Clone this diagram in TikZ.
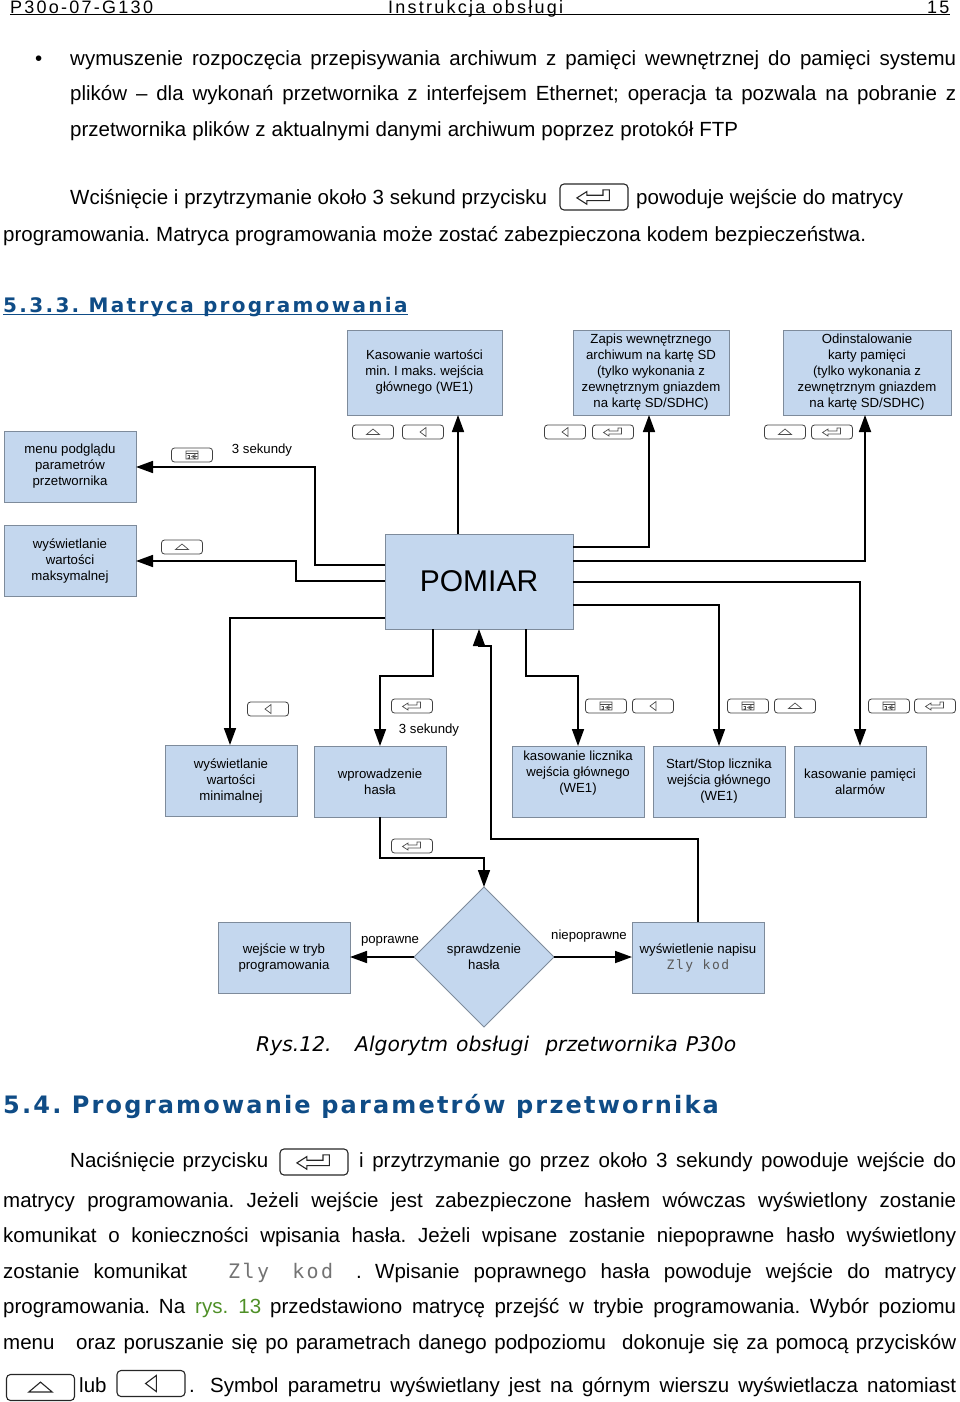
\documentclass[tikz,border=0pt]{standalone}
\usepackage{fontspec}
\setmainfont{Liberation Sans}
\newfontfamily\headfont[LetterSpace=12.5]{Liberation Sans}
\newfontfamily\titlefont[LetterSpace=11.6]{DejaVu Sans}
\newfontfamily\titlefontb[LetterSpace=9.1]{DejaVu Sans}
\newfontfamily\capfont{DejaVu Sans}
\newfontfamily\lcdfont[LetterSpace=12]{DejaVu Sans Mono}
\usetikzlibrary{arrows.meta,shapes.geometric}
\frenchspacing
\definecolor{boxblue}{HTML}{C4D7EE}
\definecolor{boxedge}{HTML}{7E8B9B}
\definecolor{headblue}{HTML}{0F4C86}
\definecolor{refgreen}{HTML}{4E8F26}
\newcommand{\fitline}[2]{\hbox to #1pt{#2}}
\tikzset{
blockbox/.style={draw=boxedge,fill=boxblue,line width=1pt,inner sep=0pt,outer sep=0pt,align=center,font=\fontsize{13.2}{16}\selectfont},
flow/.style={draw=black,line width=1.7pt,-{Triangle[length=17pt,width=12pt]}},
keybox/.style={draw=black!75,rounded corners=3pt,line width=0.8pt,inner sep=0pt,outer sep=0pt,minimum width=41pt,minimum height=14pt},
bigkey/.style={draw=black!85,rounded corners=4pt,line width=1.1pt,inner sep=0pt,outer sep=0pt,minimum width=68pt,minimum height=26pt},
label/.style={inner sep=0pt,font=\fontsize{13.2}{16}\selectfont},
textline/.style={anchor=base west,inner sep=0pt,font=\fontsize{20.5}{24}\selectfont},
headline/.style={anchor=base west,inner sep=0pt,font=\headfont\fontsize{18}{20}\selectfont},
symstroke/.style={line width=0.7pt,draw=black!70},
bigsym/.style={scale=1.8,symstroke/.append style={line width=1.1pt,draw=black!85}},
symup/.pic={\draw[symstroke] (-6.5,2.5)--(0,-3)--(6.5,2.5)--cycle;},
symleft/.pic={\draw[symstroke] (-3,0)--(3,-4.5)--(3,4.5)--cycle;},
symenter/.pic={\draw[symstroke] (-9.5,0.5)--(-4,-3)--(-4,-1)--(5,-1)--(5,-4)--(8.5,-4)--(8.5,2)--(-4,2)--(-4,4)--cycle;},
symmenu/.pic={\draw[symstroke,line width=0.55pt] (-6,-4) rectangle (6,4) (-6,-1.5)--(6,-1.5) (-4.5,0.5)--(-2.5,0.5)--(-2.5,3)--(-4.5,3) (5,1.5)--(1,1.5) (3,-0.5)--(-0.5,1.5)--(3,3.5)--cycle;}
}
\begin{document}
\begin{tikzpicture}[x=1pt,y=-1pt]
\useasboundingbox (0,0) rectangle (960,1402);

\node[headline] (docname) at (10,13.5) {P30o-07-G130};
\node[headline] (doctitle) at (388,13.5) {Instrukcja obsługi};
\node[headline] (pagenum) at (927,13.5) {15};
\coordinate (ruleL) at (10,15);
\coordinate (ruleR) at (950,15);
\draw[line width=1pt] (ruleL)--(ruleR);

\node[textline] (bullet) at (35,65.5) {•};
\node[textline] (p1a) at (70,65.5) {\fitline{886}{wymuszenie rozpoczęcia przepisywania archiwum z pamięci wewnętrznej do pamięci systemu}};
\node[textline] (p1b) at (70,101) {\fitline{886}{plików – dla wykonań przetwornika z interfejsem Ethernet; operacja ta pozwala na pobranie z}};
\node[textline] (p1c) at (70,136) {\fitline{668}{przetwornika plików z aktualnymi danymi archiwum poprzez protokół FTP}};
\node[textline] (p2a) at (70,204.5) {\fitline{477}{Wciśnięcie i przytrzymanie około 3 sekund przycisku}};
\node[bigkey] (keyA) at (594,197) {};
\pic[bigsym] at (keyA) {symenter};
\node[textline] (p2b) at (636,204.5) {\fitline{267}{powoduje wejście do matrycy}};
\node[textline] (p2c) at (3,241.5) {\fitline{863}{programowania. Matryca programowania może zostać zabezpieczona kodem bezpieczeństwa.}};

\node[anchor=base west,inner sep=0pt,text=headblue,font=\titlefont\bfseries\fontsize{20}{24}\selectfont] (sec533) at (3,312) {5.3.3. Matryca programowania};
\draw[headblue,line width=1pt] ([yshift=-2pt]sec533.base west)--([yshift=-2pt]sec533.base east);

\node[blockbox,minimum width=155pt,minimum height=85pt] (kasminmax) at (424.5,372.5) {Kasowanie wartości\\min. I maks. wejścia\\głównego (WE1)};
\node[blockbox,minimum width=156pt,minimum height=85pt] (zapis) at (651,372.5) {Zapis wewnętrznego\\archiwum na kartę SD\\(tylko wykonania z\\zewnętrznym gniazdem\\na kartę SD/SDHC)};
\node[blockbox,minimum width=168pt,minimum height=85pt] (odinst) at (867,372.5) {Odinstalowanie\\karty pamięci\\(tylko wykonania z\\zewnętrznym gniazdem\\na kartę SD/SDHC)};
\node[blockbox,minimum width=132pt,minimum height=71pt] (podglad) at (70,466.5) {menu podglądu\\parametrów\\przetwornika};
\node[blockbox,minimum width=132pt,minimum height=71pt] (maks) at (70,561) {wyświetlanie\\wartości\\maksymalnej};
\node[blockbox,minimum width=188pt,minimum height=95pt,font=\fontsize{30}{34}\selectfont] (pomiar) at (479,581.5) {POMIAR};
\node[blockbox,minimum width=132pt,minimum height=71pt] (minim) at (231,780.5) {wyświetlanie\\wartości\\minimalnej};
\node[blockbox,minimum width=132pt,minimum height=71pt] (haslo) at (380,781.5) {wprowadzenie\\hasła};
\node[blockbox,minimum width=132pt,minimum height=71pt] (kaslicz) at (578,781.5) {kasowanie licznika\\wejścia głównego\\(WE1)\\[4pt]};
\node[blockbox,minimum width=132pt,minimum height=71pt] (startstop) at (719,781.5) {Start/Stop licznika\\wejścia głównego\\(WE1)};
\node[blockbox,minimum width=132pt,minimum height=71pt] (kasalarm) at (860,781.5) {kasowanie pamięci\\alarmów};
\node[blockbox,minimum width=132pt,minimum height=71pt] (trybprog) at (284,957.5) {wejście w tryb\\programowania};
\node[blockbox,diamond,aspect=1,minimum width=140pt,minimum height=140pt] (spr) at (484,957) {sprawdzenie\\hasła};
\node[blockbox,minimum width=132pt,minimum height=71pt] (zlykod) at (698,957.5) {wyświetlenie napisu\\{\lcdfont\color{black!65}\fontsize{13}{16}\selectfont Zly kod}};

\draw[flow] (pomiar.west |- 0,565) -| (315,467) -- (podglad.east |- 0,467);
\draw[flow] (pomiar.west |- 0,581) -| (296,561) -- (maks.east |- 0,561);
\draw[flow] (pomiar.west |- 0,618) -| (minim.north -| 230,0);
\draw[flow] (pomiar.north -| 458,0) -- (kasminmax.south -| 458,0);
\draw[flow] (pomiar.east |- 0,547) -| (zapis.south -| 649,0);
\draw[flow] (pomiar.east |- 0,561) -| (odinst.south -| 865,0);
\draw[flow] (pomiar.east |- 0,582) -| (kasalarm.north);
\draw[flow] (pomiar.east |- 0,605) -| (startstop.north);
\draw[flow] (pomiar.south -| 433,0) |- (380,676) -- (haslo.north);
\draw[flow] (pomiar.south -| 526,0) |- (578,676) -- (kaslicz.north);
\draw[flow] (zlykod.north -| 698,0) |- (491,839) |- (479,646) -- (pomiar.south -| 479,0);
\draw[flow] (haslo.south) |- (484,858) -- (spr.north);
\draw[flow] (spr.west) -- (trybprog.east |- spr.west);
\draw[flow] (spr.east) -- (zlykod.west |- spr.east);

\node[keybox] (k1) at (373,432) {};
\pic at (k1) {symup};
\node[keybox] (k2) at (423,432) {};
\pic at (k2) {symleft};
\node[keybox] (k3) at (565,432) {};
\pic at (k3) {symleft};
\node[keybox] (k4) at (613,432) {};
\pic at (k4) {symenter};
\node[keybox] (k5) at (785,432) {};
\pic at (k5) {symup};
\node[keybox] (k6) at (832,432) {};
\pic at (k6) {symenter};
\node[keybox] (k7) at (192,455) {};
\pic at (k7) {symmenu};
\node[keybox] (k8) at (182,547) {};
\pic at (k8) {symup};
\node[keybox] (k9) at (268,709) {};
\pic at (k9) {symleft};
\node[keybox] (k10) at (412,706) {};
\pic at (k10) {symenter};
\node[keybox] (k11) at (606,706) {};
\pic at (k11) {symmenu};
\node[keybox] (k12) at (653,706) {};
\pic at (k12) {symleft};
\node[keybox] (k13) at (748,706) {};
\pic at (k13) {symmenu};
\node[keybox] (k14) at (795,706) {};
\pic at (k14) {symup};
\node[keybox] (k15) at (889,706) {};
\pic at (k15) {symmenu};
\node[keybox] (k16) at (935,706) {};
\pic at (k16) {symenter};
\node[keybox] (k17) at (412,846) {};
\pic at (k17) {symenter};

\node[label] (sek1) at (262,450) {3 sekundy};
\node[label] (sek2) at (429,730) {3 sekundy};
\node[label] (popr) at (390,941) {poprawne};
\node[label] (niepopr) at (589,936) {niepoprawne};

\node[anchor=base west,inner sep=0pt,font=\capfont\itshape\fontsize{20.3}{24}\selectfont] (rysnum) at (256,1051) {Rys.12.};
\node[anchor=base west,inner sep=0pt,font=\capfont\itshape\fontsize{20.3}{24}\selectfont] (rysname) at (355,1051) {\fitline{381}{Algorytm obsługi \ przetwornika P30o}};

\node[anchor=base west,inner sep=0pt,text=headblue,font=\titlefontb\bfseries\fontsize{24}{28}\selectfont] (sec54) at (3,1113) {5.4. Programowanie parametrów przetwornika};

\node[textline] (q1a) at (70,1167.5) {\fitline{198}{Naciśnięcie przycisku}};
\node[bigkey] (keyB) at (314,1162) {};
\pic[bigsym] at (keyB) {symenter};
\node[textline] (q1b) at (359,1167.5) {\fitline{597}{i przytrzymanie go przez około 3 sekundy powoduje wejście do}};
\node[textline] (q2) at (3,1207.5) {\fitline{953}{matrycy programowania. Jeżeli wejście jest zabezpieczone hasłem wówczas wyświetlony zostanie}};
\node[textline] (q3) at (3,1242.5) {\fitline{953}{komunikat o konieczności wpisania hasła. Jeżeli wpisane zostanie niepoprawne hasło wyświetlony}};
\node[textline] (q4a) at (3,1278.5) {\fitline{184}{zostanie komunikat}};
\node[textline,font=\lcdfont\fontsize{20}{24}\selectfont,text=black!55] (q4b) at (228,1278.5) {\fitline{105}{Zly kod}};
\node[textline] (q4c) at (356,1278.5) {.};
\node[textline] (q4d) at (375,1278.5) {\fitline{581}{Wpisanie poprawnego hasła powoduje wejście do matrycy}};
\node[textline] (q5a) at (3,1313.5) {\fitline{182}{programowania. Na}};
\node[textline,text=refgreen] (q5b) at (195,1313.5) {\fitline{66}{rys. 13}};
\node[textline] (q5c) at (270,1313.5) {\fitline{686}{przedstawiono matrycę przejść w trybie programowania. Wybór poziomu}};
\node[textline] (q6a) at (3,1349.5) {menu};
\node[textline] (q6b) at (76,1349.5) {\fitline{530}{oraz poruszanie się po parametrach danego podpoziomu}};
\node[textline] (q6c) at (622,1349.5) {\fitline{334}{dokonuje się za pomocą przycisków}};
\node[bigkey] (keyC) at (40.5,1387.5) {};
\pic[bigsym] at (keyC) {symup};
\node[textline] (q7a) at (79,1392.5) {lub};
\node[bigkey] (keyD) at (151,1383.5) {};
\pic[bigsym] at (keyD) {symleft};
\node[textline] (q7b) at (189,1392.5) {.};
\node[textline] (q7c) at (210,1392.5) {\fitline{746}{Symbol parametru wyświetlany jest na górnym wierszu wyświetlacza natomiast}};
\end{tikzpicture}
\end{document}
